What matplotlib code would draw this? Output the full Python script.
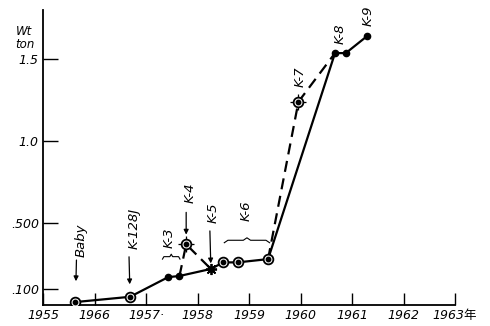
import matplotlib
matplotlib.use("Agg")
import matplotlib.pyplot as plt
from matplotlib.transforms import offset_copy

plt.rcParams['font.family'] = ['DejaVu Sans', 'Noto Sans CJK JP']

# main (solid) series: year, weight in tons
years = [1955.63, 1956.69, 1957.43, 1957.65, 1958.26, 1958.50, 1958.78, 1959.37, 1960.67, 1960.88, 1961.29]
weights = [0.018, 0.050, 0.170, 0.177, 0.220, 0.260, 0.260, 0.280, 1.537, 1.537, 1.640]
kinds = ['ring', 'ring', 'dot', 'dot', 'star', 'ring', 'ring', 'ring', 'dot', 'dot', 'dot']

# dashed side branches (K-4 and K-7)
branch1_years = [1957.65, 1957.78, 1958.26]
branch1_weights = [0.177, 0.370, 0.220]
branch2_years = [1959.37, 1959.96, 1960.67]
branch2_weights = [0.280, 1.240, 1.537]

x_ticks = [1955, 1956, 1957, 1958, 1959, 1960, 1961, 1962, 1963]
x_labels = ['1955', '1966', '1957·', '1958', '1959', '1960', '1961', '1962', '1963年']
y_ticks = [0.1, 0.5, 1.0, 1.5]
y_labels = ['.100', '.500', '1.0', '1.5']

fig = plt.figure(figsize=(4.9, 3.26), dpi=100)
ax = fig.add_axes([43 / 490, 21 / 326, 412 / 490, 295 / 326])
ax.set_xlim(1955, 1963)
ax.set_ylim(0, 1.8)

for s in ['top', 'right']:
    ax.spines[s].set_visible(False)
for s in ['left', 'bottom']:
    ax.spines[s].set_linewidth(1.3)

ax.set_xticks(x_ticks)
ax.set_xticklabels(x_labels, fontstyle='italic', fontsize=9)
ax.set_yticks(y_ticks)
ax.set_yticklabels(y_labels, fontstyle='italic', fontsize=9)
ax.tick_params(axis='x', direction='in', length=9, width=1, pad=3)
ax.tick_params(axis='y', direction='in', length=11, width=1, pad=3)

# lines
ax.plot(years, weights, color='black', lw=1.6, zorder=2)
ax.plot(branch1_years, branch1_weights, color='black', lw=1.6, ls=(0, (5, 3)), zorder=2)
ax.plot(branch2_years, branch2_weights, color='black', lw=1.6, ls=(0, (5, 3)), zorder=2)

# markers
for x, y, k in zip(years, weights, kinds):
    if k == 'ring':
        ax.plot(x, y, 'o', ms=7, mfc='white', mec='black', mew=1.3, zorder=3)
        ax.plot(x, y, 'o', ms=3.2, color='black', zorder=4)
    elif k == 'dot':
        ax.plot(x, y, 'o', ms=4.5, color='black', zorder=3)
    else:
        ax.plot(x, y, marker=(8, 2, 0), ms=8, color='black', mew=1.3, zorder=3)
        ax.plot(x, y, 'o', ms=3.5, color='black', zorder=4)

for xs, ys in [(branch1_years, branch1_weights), (branch2_years, branch2_weights)]:
    ax.plot(xs[1], ys[1], '+', ms=11, color='black', mew=0.9, zorder=3)
    ax.plot(xs[1], ys[1], 'o', ms=7, mfc='white', mec='black', mew=1.3, zorder=4)
    ax.plot(xs[1], ys[1], 'o', ms=3.2, color='black', zorder=5)


def label(text, x, y, dx, dy):
    ax.text(x, y, text, transform=offset_copy(ax.transData, fig=fig, x=dx, y=dy, units='dots'),
            rotation=90, fontsize=9.5, fontstyle='italic', ha='center', va='center')


def arrow(x, y, dx, top, bottom):
    ax.annotate('', xy=(x, y), xycoords='data',
                xytext=(dx, top), textcoords='offset pixels',
                arrowprops=dict(arrowstyle='-|>', color='black', lw=0.9,
                                mutation_scale=7, shrinkA=0, shrinkB=bottom))


def brace(x0, x1, y, h):
    xm = (x0 + x1) / 2
    w = 0.08 * (x1 - x0)
    xs = [x0, x0 + w, xm - w, xm, xm + w, x1 - w, x1]
    ys = [y, y + h / 2, y + h / 2, y + h, y + h / 2, y + h / 2, y]
    ax.plot(xs, ys, color='black', lw=0.8, zorder=2)


# Baby
label('Baby', years[0], weights[0], 6, 62)
arrow(years[0], weights[0], 1, 42, 15)
# K-128J
label('K-128J', years[1], weights[1], 4, 68)
arrow(years[1], weights[1], -1, 40, 9)
# K-3
label('K-3', years[2], weights[2], 1, 39)
brace(1957.32, 1957.66, 0.28, 0.03)
# K-4
label('K-4', branch1_years[1], branch1_weights[1], 4, 52)
arrow(branch1_years[1], branch1_weights[1], 0, 32, 7)
# K-5
label('K-5', years[4], weights[4], 2, 56)
arrow(years[4], weights[4], -1, 38, 4)
# K-6
label('K-6', 1958.95, weights[6], 0, 52)
brace(1958.52, 1959.40, 0.38, 0.03)
# K-7, K-8, K-9
label('K-7', branch2_years[1], branch2_weights[1], 2, 25)
label('K-8', years[8], weights[8], 5, 19)
label('K-9', years[10], weights[10], 1, 20)

# axis title
ax.text(-0.045, 0.905, 'Wt\nton', transform=ax.transAxes, fontsize=8.5, fontstyle='italic',
        ha='center', va='center', linespacing=0.95)

fig.savefig('out.png', dpi=100, facecolor='white')
